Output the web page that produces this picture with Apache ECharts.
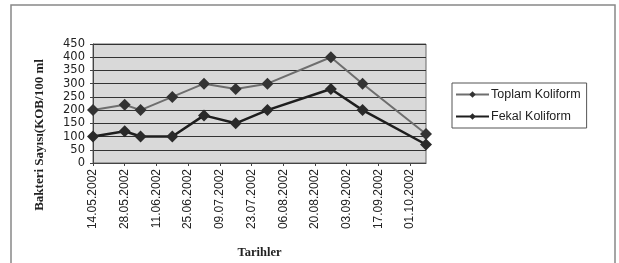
<!DOCTYPE html>
<html>
<head>
<meta charset="utf-8">
<script src="https://cdn.jsdelivr.net/npm/echarts@6/dist/echarts.min.js"></script>
<style>
  html, body { margin: 0; padding: 0; background: #fff; }
  #chart { width: 619px; height: 263px; }
</style>
</head>
<body>
<div id="chart"></div>
<script>
// sampling dates and counts (KOB/100 ml)
let dates = ["14.05.2002", "28.05.2002", "04.06.2002", "18.06.2002", "02.07.2002",
             "16.07.2002", "30.07.2002", "27.08.2002", "10.09.2002", "08.10.2002"];
let toplam = [200, 220, 200, 250, 300, 280, 300, 400, 300, 110];
let fekal = [100, 120, 100, 100, 180, 150, 200, 280, 200, 70];
let seriesNames = ["Toplam Koliform", "Fekal Koliform"];

const DAY = 86400000;
const base = Date.UTC(2002, 4, 14);

function dayOffset(s) {
    let p = s.split(".");
    return Math.round((Date.UTC(+p[2], +p[1] - 1, +p[0]) - base) / DAY);
}

function fmtDay(v) {
    let d = new Date(base + v * DAY);
    let dd = ("0" + d.getUTCDate()).slice(-2);
    let mm = ("0" + (d.getUTCMonth() + 1)).slice(-2);
    return `${dd}.${mm}.${d.getUTCFullYear()}`;
}

let myChart = echarts.init(document.getElementById("chart"));
myChart.setOption({
    animation: false,
    backgroundColor: "#fff",
    textStyle: { fontFamily: "Liberation Sans" },
    grid: {
        left: 93, top: 44, width: 333, height: 119,
        show: true,
        backgroundColor: "#d9d9d9",
        borderColor: "#666",
        borderWidth: 1
    },
    xAxis: {
        type: "value",
        min: 0,
        max: dayOffset(dates[dates.length - 1]),
        interval: 14,
        name: "Tarihler",
        nameLocation: "middle",
        nameGap: 83,
        nameTextStyle: { fontFamily: "Liberation Serif", fontWeight: "bold", fontSize: 12.5, color: "#222" },
        axisLine: { lineStyle: { color: "#444" } },
        axisTick: { show: true, length: 3, lineStyle: { color: "#444" } },
        splitLine: { show: false },
        axisLabel: {
            rotate: 90,
            fontSize: 12,
            color: "#222",
            margin: 6,
            showMaxLabel: false,
            formatter: v => fmtDay(v)
        }
    },
    yAxis: {
        type: "value",
        min: 0,
        max: 450,
        interval: 50,
        axisLine: { show: true, lineStyle: { color: "#444" } },
        axisTick: { show: true, length: 3, lineStyle: { color: "#444" } },
        splitLine: { lineStyle: { color: "#333", width: 1 } },
        axisLabel: {
            fontFamily: "DejaVu Sans",
            fontSize: 11.5,
            color: "#222",
            margin: 8
        }
    },
    legend: {
        orient: "vertical",
        left: 452,
        top: 83,
        width: 136,
        borderColor: "#555",
        borderWidth: 1,
        padding: [5, 6, 5, 3],
        itemWidth: 33,
        itemHeight: 8,
        itemGap: 9,
        textStyle: { fontSize: 12.5, color: "#222", padding: [0, 0, 0, -3] },
        data: seriesNames
    },
    graphic: [
        {
            type: "rect",
            shape: { x: 11, y: 5, width: 604, height: 262 },
            style: { fill: "none", stroke: "#888", lineWidth: 1.5 },
            silent: true
        },
        {
            type: "text",
            x: 40,
            y: 135,
            rotation: Math.PI / 2,
            style: {
                text: "Bakteri Sayısı(KOB/100 ml",
                font: "bold 13px 'Liberation Serif'",
                fill: "#222",
                align: "center",
                verticalAlign: "middle"
            }
        }
    ],
    series: [
        {
            name: seriesNames[0],
            type: "line",
            data: dates.map((d, i) => [dayOffset(d), toplam[i]]),
            symbol: "diamond",
            symbolSize: 12,
            lineStyle: { color: "#6e6e6e", width: 2 },
            itemStyle: { color: "#333" }
        },
        {
            name: seriesNames[1],
            type: "line",
            data: dates.map((d, i) => [dayOffset(d), fekal[i]]),
            symbol: "diamond",
            symbolSize: 12,
            lineStyle: { color: "#1e1e1e", width: 2.5 },
            itemStyle: { color: "#2a2a2a" }
        }
    ]
});
</script>
</body>
</html>
